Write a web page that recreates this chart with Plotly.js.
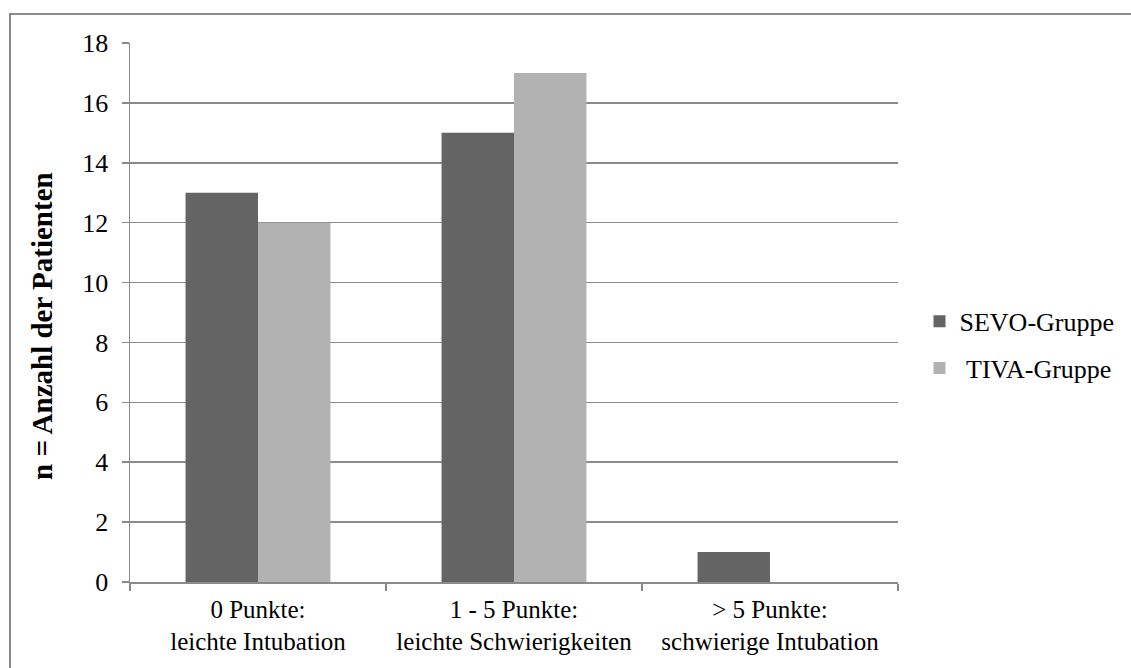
<!DOCTYPE html>
<html>
<head>
<meta charset="utf-8">
<script src="https://cdn.plot.ly/plotly-3.0.1.min.js"></script>
<style>
  html, body { margin: 0; padding: 0; background: #fff; }
  #wrap { position: relative; width: 1131px; height: 668px; overflow: hidden; }
  #frame { position: absolute; left: 9px; top: 13px; width: 1140px; height: 700px;
           border-left: 2px solid #8a8a8a; border-top: 2px solid #8a8a8a; box-sizing: border-box; }
  #chart { position: absolute; left: 0; top: 0; width: 1131px; height: 668px; }
</style>
</head>
<body>
<div id="wrap">
  <div id="frame"></div>
  <div id="chart"></div>
</div>
<script>
// Intubation score groups (x categories)
const categories = [
  "0 Punkte:<br>leichte Intubation",
  "1 - 5 Punkte:<br>leichte Schwierigkeiten",
  "> 5 Punkte:<br>schwierige Intubation"
];
// Number of patients per group
const sevoValues = [13, 15, 1];
const tivaValues = [12, 17, 0];
const seriesNames = ["SEVO-Gruppe", "\u00a0TIVA-Gruppe"];
const yTicks = [0, 2, 4, 6, 8, 10, 12, 14, 16, 18];
const yTitle = "n = Anzahl der Patienten";

const font = "'Liberation Serif', 'Times New Roman', serif";
const gridColor = "#8a8a8a";

const traces = [
  { type: "bar", name: seriesNames[0], x: categories, y: sevoValues,
    marker: { color: "#646464" }, legendgroup: "a", hoverinfo: "none" },
  { type: "bar", name: seriesNames[1], x: categories, y: tivaValues,
    marker: { color: "#b2b2b2" }, legendgroup: "b", hoverinfo: "none" }
];

const layout = {
  width: 1131, height: 668,
  paper_bgcolor: "rgba(0,0,0,0)", plot_bgcolor: "rgba(0,0,0,0)",
  margin: { l: 130, r: 233, t: 43, b: 86 },
  font: { family: font, size: 25, color: "#000" },
  barmode: "group", bargap: 0.434, bargroupgap: 0,
  showlegend: true,
  legend: { x: 1.028, xanchor: "left", y: 0.44, yanchor: "middle",
            font: { family: font, size: 26, color: "#000" },
            traceorder: "grouped", tracegroupgap: 10, itemwidth: 30,
            bgcolor: "rgba(0,0,0,0)" },
  xaxis: {
    type: "category", showgrid: false, zeroline: false,
    showline: true, linecolor: gridColor, linewidth: 1.5,
    ticks: "outside", tickson: "boundaries", ticklen: 7, tickwidth: 1.5, tickcolor: gridColor,
    tickfont: { family: font, size: 25, color: "#000" }, ticklabelstandoff: 4,
    fixedrange: true
  },
  yaxis: {
    range: [0, 18], tickvals: yTicks, ticktext: yTicks.map(String),
    showgrid: true, gridcolor: gridColor, gridwidth: 1.5, zeroline: false,
    showline: true, linecolor: gridColor, linewidth: 1.5,
    ticks: "outside", ticklen: 7, tickwidth: 1.5, tickcolor: gridColor,
    tickfont: { family: font, size: 26, color: "#000" }, ticklabelstandoff: 8,
    fixedrange: true
  },
  // vertical axis caption, placed left of the tick labels
  annotations: [{
    text: "<b>" + yTitle + "</b>", textangle: -90, showarrow: false,
    xref: "paper", yref: "paper", x: -0.1146, y: 0.475,
    xanchor: "center", yanchor: "middle",
    font: { family: font, size: 29, color: "#000" }
  }]
};

Plotly.newPlot("chart", traces, layout, { staticPlot: true, displayModeBar: false });
</script>
</body>
</html>
